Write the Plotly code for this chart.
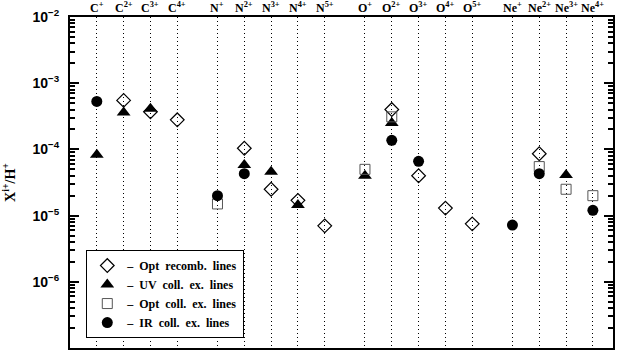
import plotly.graph_objects as go

# ---- data ----
elements = ["C", "N", "O", "Ne"]
stages = {"C": [1, 2, 3, 4], "N": [1, 2, 3, 4, 5], "O": [1, 2, 3, 4, 5], "Ne": [1, 2, 3, 4]}

opt_recomb_ions = ["C2+", "C3+", "C4+", "N2+", "N3+", "N4+", "N5+", "O2+", "O3+", "O4+", "O5+", "Ne2+"]
opt_recomb_vals = [5.5e-4, 3.7e-4, 2.8e-4, 1.04e-4, 2.5e-5, 1.7e-5, 7.0e-6, 4.0e-4, 4.0e-5, 1.3e-5, 7.5e-6, 8.6e-5]

uv_coll_ions = ["C+", "C2+", "C3+", "N2+", "N3+", "N4+", "O+", "O2+", "Ne3+"]
uv_coll_vals = [8.3e-5, 3.6e-4, 4.1e-4, 5.8e-5, 4.6e-5, 1.45e-5, 4.0e-5, 2.5e-4, 4.1e-5]

opt_coll_ions = ["N+", "O+", "O2+", "Ne2+", "Ne3+", "Ne4+"]
opt_coll_vals = [1.5e-5, 5.0e-5, 3.1e-4, 5.5e-5, 2.5e-5, 2.0e-5]

ir_coll_ions = ["C+", "N+", "N2+", "O2+", "O3+", "Ne+", "Ne2+", "Ne4+"]
ir_coll_vals = [5.3e-4, 2.0e-5, 4.3e-5, 1.37e-4, 6.6e-5, 7.2e-6, 4.3e-5, 1.2e-5]

legend_names = ["–  Opt  recomb.  lines", "–  UV  coll.  ex.  lines",
                "–  Opt  coll.  ex.  lines", "–  IR  coll.  ex.  lines"]

ytick_vals = [1e-7, 1e-6, 1e-5, 1e-4, 1e-3, 1e-2]
ytick_text = ["10<sup>−7</sup>", "10<sup>−6</sup>", "10<sup>−5</sup>", "10<sup>−4</sup>", "10<sup>−3</sup>", "10<sup>−2</sup>"]

# ---- category positions (element groups separated by extra gap) ----
pos = {}
labels = {}
x = 1.0
for gi, el in enumerate(elements):
    if gi > 0:
        x += 0.5
    for s in stages[el]:
        key = f"{el}+" if s == 1 else f"{el}{s}+"
        pos[key] = x
        labels[key] = f"{el}<sup>+</sup>" if s == 1 else f"{el}<sup>{s}+</sup>"
        x += 1.0
cat_keys = list(pos.keys())

SERIF = "Liberation Serif"
SANS = "Liberation Sans"

fig = go.Figure()

def add(ions, vals, name, symbol, size, fill, lw=1.0, lc="black"):
    fig.add_trace(go.Scatter(
        x=[pos[i] for i in ions], y=vals, mode="markers", name="<b>" + name + "</b>",
        marker=dict(symbol=symbol, size=size, color=fill,
                    line=dict(color=lc, width=lw)),
    ))

add(opt_recomb_ions, opt_recomb_vals, legend_names[0], "diamond-open", 10.5, "black", 1.2)
add(uv_coll_ions, uv_coll_vals, legend_names[1], "triangle-up", 12, "black", 0)
add(opt_coll_ions, opt_coll_vals, legend_names[2], "square-open", 10, "#555555", 1.0)
add(ir_coll_ions, ir_coll_vals, legend_names[3], "circle", 11, "black", 0)

# ion labels above the frame
for k in cat_keys:
    fig.add_annotation(
        x=pos[k], xref="x", y=1, yref="paper", yanchor="middle", yshift=10,
        text="<b>" + labels[k] + "</b>", showarrow=False,
        font=dict(family=SERIF, size=12, color="black"),
    )

fig.update_layout(
    width=621, height=353,
    margin=dict(l=70, r=8, t=17, b=5, autoexpand=False),
    paper_bgcolor="white", plot_bgcolor="white",
    showlegend=True,
    legend=dict(x=0.03, y=0.163, xanchor="left", yanchor="middle",
                bordercolor="black", borderwidth=1, bgcolor="white",
                font=dict(family=SERIF, size=12, color="black"),
                tracegroupgap=0, itemwidth=30),
    font=dict(family=SERIF, color="black"),
)

fig.update_xaxes(
    range=[0, 20.25], automargin=False,
    tickvals=[pos[k] for k in cat_keys], showticklabels=False,
    ticks="", showgrid=True, gridcolor="black", griddash="1px,3px", gridwidth=1,
    showline=True, linecolor="black", linewidth=2, mirror=True,
    zeroline=False,
)

fig.update_yaxes(
    type="log", range=[-7, -2], automargin=False,
    tickvals=ytick_vals, ticktext=["<b>" + t + "</b>" for t in ytick_text],
    tickfont=dict(family=SANS, size=14, color="black"),
    ticks="inside", ticklen=9, tickwidth=2, tickcolor="black",
    minor=dict(ticks="inside", ticklen=5, tickwidth=1.5, tickcolor="black",
               tickvals=[m * 10.0 ** e for e in range(-7, -2) for m in range(2, 10)]),
    showgrid=False, showline=True, linecolor="black", linewidth=2, mirror="ticks",
    zeroline=False, ticklabelstandoff=6,
    title=dict(text="<b>X<sup>i+</sup>/H<sup>+</sup></b>", font=dict(family=SERIF, size=14), standoff=14),
)

fig.write_html("out.html", config={"displayModeBar": False},
               post_script="document.body.style.margin='0';document.body.style.overflow='hidden';")
